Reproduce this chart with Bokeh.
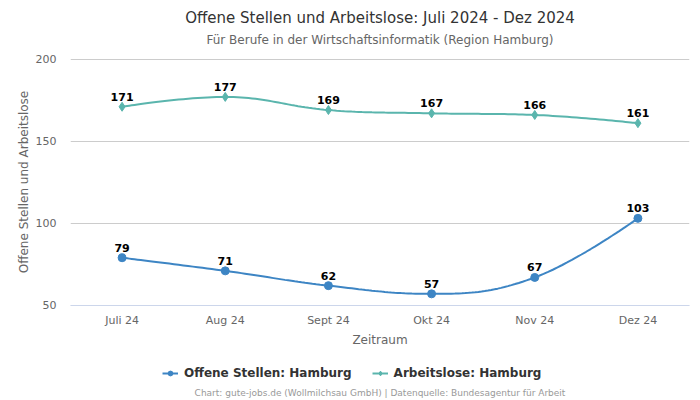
import numpy as np
from bokeh.plotting import figure
from bokeh.layouts import column
from bokeh.core.properties import value
from bokeh.models import (ColumnDataSource, LabelSet, Legend, LegendItem, Label,
                          FixedTicker, Range1d)
from bokeh.embed import file_html
from bokeh.resources import INLINE

months = ["Juli 24", "Aug 24", "Sept 24", "Okt 24", "Nov 24", "Dez 24"]
offene = [79, 71, 62, 57, 67, 103]
arbeitslose = [171, 177, 169, 167, 166, 161]
y_ticks = [50, 100, 150, 200]

TITLE = "Offene Stellen und Arbeitslose: Juli 2024 - Dez 2024"
SUBTITLE = "Für Berufe in der Wirtschaftsinformatik (Region Hamburg)"
FOOTER = "Chart: gute-jobs.de (Wollmilchsau GmbH) | Datenquelle: Bundesagentur für Arbeit"
SERIES = ["Offene Stellen: Hamburg", "Arbeitslose: Hamburg"]

BLUE = "#3d85c4"
TEAL = "#5ab5ad"
FONT = "DejaVu Sans"
W = 700


def spline(xs, ys, smoothing=1.5, n=30):
    """Highcharts-style spline path through the data points."""
    xs = np.asarray(xs, float)
    ys = np.asarray(ys, float)
    m = len(xs)
    lc = [(xs[i], ys[i]) for i in range(m)]
    rc = [(xs[i], ys[i]) for i in range(m)]
    d = smoothing + 1
    for i in range(1, m - 1):
        px, py = xs[i], ys[i]
        lx, ly = xs[i - 1], ys[i - 1]
        nx, ny = xs[i + 1], ys[i + 1]
        lcx = (smoothing * px + lx) / d
        lcy = (smoothing * py + ly) / d
        rcx = (smoothing * px + nx) / d
        rcy = (smoothing * py + ny) / d
        corr = 0.0
        if rcx != lcx:
            corr = (rcy - lcy) * (rcx - px) / (rcx - lcx) + py - rcy
        lcy += corr
        rcy += corr
        if lcy > ly and lcy > py:
            lcy = max(ly, py); rcy = 2 * py - lcy
        elif lcy < ly and lcy < py:
            lcy = min(ly, py); rcy = 2 * py - lcy
        if rcy > ny and rcy > py:
            rcy = max(ny, py); lcy = 2 * py - rcy
        elif rcy < ny and rcy < py:
            rcy = min(ny, py); lcy = 2 * py - rcy
        lc[i] = (lcx, lcy)
        rc[i] = (rcx, rcy)
    t = np.linspace(0, 1, n)
    X, Y = [], []
    for i in range(1, m):
        p0 = (xs[i - 1], ys[i - 1]); p1 = rc[i - 1]; p2 = lc[i]; p3 = (xs[i], ys[i])
        bx = (1 - t) ** 3 * p0[0] + 3 * (1 - t) ** 2 * t * p1[0] + 3 * (1 - t) * t ** 2 * p2[0] + t ** 3 * p3[0]
        by = (1 - t) ** 3 * p0[1] + 3 * (1 - t) ** 2 * t * p1[1] + 3 * (1 - t) * t ** 2 * p2[1] + t ** 3 * p3[1]
        X.extend(bx if i == 1 else bx[1:]); Y.extend(by if i == 1 else by[1:])
    return X, Y


def blank_fig(h):
    f = figure(width=W, height=h, output_backend="svg", toolbar_location=None,
               x_range=Range1d(0, W), y_range=Range1d(h, 0),
               x_axis_location=None, y_axis_location=None,
               min_border=0, title=None)
    f.outline_line_color = None
    f.xgrid.visible = False
    f.ygrid.visible = False
    return f


xi = list(range(len(months)))

# ---------- header ----------
top = blank_fig(50)
top.add_layout(Label(x=W / 2, y=17, text=TITLE, text_align="center", text_baseline="middle",
                     text_font=FONT, text_font_size="15px", text_color="#333333"))
top.add_layout(Label(x=W / 2, y=39, text=SUBTITLE, text_align="center", text_baseline="middle",
                     text_font=FONT, text_font_size="12px", text_color="#666666"))

# ---------- main chart ----------
p = figure(width=W, height=300, output_backend="svg", toolbar_location=None, title=None,
           x_range=Range1d(-0.5, len(months) - 0.5), y_range=Range1d(49.9, 200.4),
           min_border_left=70, min_border_right=11, min_border_top=8, min_border_bottom=45)
p.outline_line_color = None

p.xaxis.ticker = FixedTicker(ticks=xi)
p.xaxis.major_label_overrides = {i: m for i, m in enumerate(months)}
p.yaxis.ticker = FixedTicker(ticks=y_ticks)
for ax in (p.xaxis[0], p.yaxis[0]):
    ax.major_tick_line_color = None
    ax.minor_tick_line_color = None
    ax.major_tick_out = 0
    ax.major_tick_in = 0
    ax.minor_tick_out = 0
    ax.minor_tick_in = 0
    ax.major_label_text_font = FONT
    ax.major_label_text_font_size = "11px"
    ax.major_label_text_color = "#666666"
    ax.axis_label_text_font = FONT
    ax.axis_label_text_font_size = "12px"
    ax.axis_label_text_font_style = "normal"
    ax.axis_label_text_color = "#666666"
p.xaxis.axis_label = "Zeitraum"
p.yaxis.axis_label = "Offene Stellen und Arbeitslose"
p.xaxis.axis_line_color = "#ccd6eb"
p.yaxis.axis_line_color = None
p.xaxis.major_label_standoff = 8
p.xaxis.axis_label_standoff = 3
p.yaxis.major_label_standoff = 14
p.yaxis.axis_label_standoff = 2
p.xgrid.grid_line_color = None
p.ygrid.grid_line_color = "#cccccc"
p.ygrid.ticker = FixedTicker(ticks=y_ticks)

sx, sy = spline(xi, offene)
tx, ty = spline(xi, arbeitslose)
src_o = ColumnDataSource(dict(x=xi, y=offene, lab=[str(v) for v in offene]))
src_a = ColumnDataSource(dict(x=xi, y=arbeitslose, lab=[str(v) for v in arbeitslose]))

p.line(sx, sy, line_color=BLUE, line_width=2)
p.scatter("x", "y", source=src_o, marker="circle", size=8, fill_color=BLUE, line_color=BLUE)
p.line(tx, ty, line_color=TEAL, line_width=2)
p.scatter("x", "y", source=src_a, marker="diamond", size=9, fill_color=TEAL, line_color=TEAL)

for src in (src_o, src_a):
    p.add_layout(LabelSet(x="x", y="y", text="lab", source=src, y_offset=6,
                          text_align="center", text_baseline="bottom",
                          text_font=value(FONT), text_font_size=value("11px"),
                          text_font_style="bold", text_color="#000000"))

# ---------- legend + footer ----------
bot = blank_fig(48)
# legend proxies drawn from the same series (they lie outside this strip's visible range)
lo = bot.line(xi, offene, line_color=BLUE, line_width=2)
so = bot.scatter(xi, offene, marker="circle", size=8, fill_color=BLUE, line_color=BLUE)
la = bot.line(xi, arbeitslose, line_color=TEAL, line_width=2)
sa = bot.scatter(xi, arbeitslose, marker="diamond", size=9, fill_color=TEAL, line_color=TEAL)
legend = Legend(items=[LegendItem(label=SERIES[0], renderers=[lo, so]),
                       LegendItem(label=SERIES[1], renderers=[la, sa])],
                orientation="horizontal", location=(92, 18),
                label_text_font=FONT, label_text_font_size="12px", label_text_font_style="bold",
                label_text_color="#333333", glyph_width=16, glyph_height=12,
                spacing=20, padding=2, margin=0, border_line_color=None,
                background_fill_alpha=0, label_standoff=6)
bot.add_layout(legend, "center")
bot.add_layout(Label(x=W / 2, y=42, text=FOOTER, text_align="center", text_baseline="middle",
                     text_font=FONT, text_font_size="9px", text_color="#999999"))

layout = column(top, p, bot, spacing=0)
open("out.html", "w").write(file_html(layout, INLINE))
